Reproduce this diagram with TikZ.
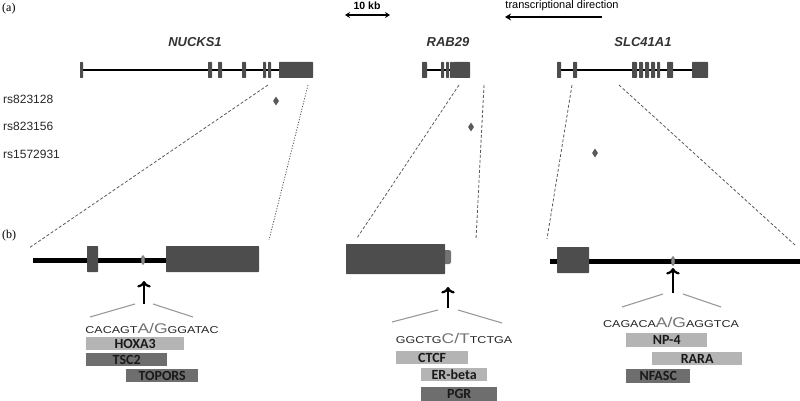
\documentclass[tikz,border=0pt]{standalone}
\usepackage{fontspec}
\setmainfont{Liberation Sans}
\newfontfamily\seqfont[FakeStretch=1.25]{Liberation Sans}
\newfontfamily\tffont{Carlito}
\newfontfamily\panelfont{Liberation Serif}
\usepackage{xcolor}
\usetikzlibrary{arrows.meta,shapes.geometric}
\definecolor{exongray}{HTML}{4D4D4D}
\definecolor{tflight}{HTML}{B4B4B4}
\definecolor{tfdark}{HTML}{6E6E6E}
\definecolor{snpgray}{HTML}{5A5A5A}

\newcommand{\allele}[1]{{\fontsize{14}{14}\selectfont\color{black!55}#1}}

\begin{document}
\begin{tikzpicture}[x=1pt,y=-1pt,
    exon/.style={fill=exongray, rounded corners=0.6pt},
    zoomline/.style={draw=black!65, line width=0.8pt, dash pattern=on 3pt off 2pt},
    calloutline/.style={draw=black!40, line width=1.1pt},
    snp/.style={shape=diamond, fill=snpgray, inner sep=0pt, minimum width=6pt, minimum height=9pt},
    site/.style={ellipse, fill=black!45, draw=black!60, line width=0.4pt, inner sep=0pt, minimum width=3.5pt, minimum height=9pt},
    tfbox/.style={fill=#1, text=black!90, font=\tffont\bfseries\fontsize{14}{14}\selectfont, inner sep=0pt, minimum height=13pt, anchor=north west},
    seq/.style={font=\seqfont\fontsize{10}{10}\selectfont, text=black!85, anchor=base, inner sep=0pt},
    genename/.style={font=\bfseries\itshape\fontsize{13}{13}\selectfont, text=black!80},
    rslabel/.style={font=\fontsize{12}{12}\selectfont, text=black!85, anchor=base west, inner sep=0pt},
    ]
    \useasboundingbox (0,0) rectangle (800,401);
    % (a) overview
    \node[font=\panelfont\fontsize{12}{12}\selectfont, anchor=base west, inner sep=0pt] (pa) at (2,12) {(a)};
    \node[font=\bfseries\fontsize{10.5}{10.5}\selectfont, anchor=base, inner sep=0pt] (kb) at (367,10) {10 kb};
    \coordinate (kbl) at (345,15);
    \coordinate (kbr) at (390,15);
    \draw[{Stealth[length=5pt,width=6pt]}-{Stealth[length=5pt,width=6pt]}, line width=1.3pt] (kbl) -- (kbr);
    \node[font=\fontsize{11}{11}\selectfont, anchor=base, inner sep=0pt] (tdir) at (562,9) {transcriptional direction};
    \coordinate (tdirs) at (602,17);
    \coordinate (tdire) at (505,17);
    \draw[-{Stealth[length=6pt,width=7pt]}, line width=1.3pt] (tdirs) -- (tdire);

    \node[genename] (nucks) at (195,42) {NUCKS1};
    \node[genename] (rab) at (448,42) {RAB29};
    \node[genename] (slc) at (643,42) {SLC41A1};

    \draw[line width=2pt] (80,70) -- (279,70);
    \foreach \a/\b in {80/83,208/212,218/222,242/246,263/266,268/271,279/313}
      \fill[exon] (\a,62) rectangle (\b,78);
    \draw[line width=2pt] (422,70) -- (453,70);
    \foreach \a/\b in {422/427,441/444,446/449,450/453,453/470}
      \fill[exon] (\a,62) rectangle (\b,78);
    \draw[line width=2pt] (557,70) -- (692,70);
    \foreach \a/\b in {557/561,573/577,632/637,639/643,645/649,651/655,657/660,667/673,692/708}
      \fill[exon] (\a,62) rectangle (\b,78);

    \node[rslabel] (rsa) at (3,104) {rs823128};
    \node[rslabel] (rsb) at (3,131) {rs823156};
    \node[rslabel] (rsc) at (3,158) {rs1572931};
    \node[snp] (snpa) at (276,101) {};
    \node[snp] (snpb) at (471,127) {};
    \node[snp] (snpc) at (595,153) {};

    % zoom lines
    \coordinate (nta) at (268,85);  \coordinate (nba) at (29,248);
    \coordinate (ntb) at (308,85);  \coordinate (nbb) at (269,240);
    \coordinate (rta) at (459,85);  \coordinate (rba) at (357,238);
    \coordinate (rtb) at (484,85);  \coordinate (rbb) at (476,239);
    \coordinate (sta) at (572,85);  \coordinate (sba) at (547,239);
    \coordinate (stb) at (619,85);  \coordinate (sbb) at (795,245);
    \draw[zoomline] (nta) -- (nba);
    \draw[zoomline, dash pattern=on 1.2pt off 1.5pt] (ntb) -- (nbb);
    \draw[zoomline] (rta) -- (rba);
    \draw[zoomline] (rtb) -- (rbb);
    \draw[zoomline] (sta) -- (sba);
    \draw[zoomline] (stb) -- (sbb);

    % (b) detail
    \node[font=\panelfont\fontsize{12}{12}\selectfont, anchor=base west, inner sep=0pt] (pb) at (2,238) {(b)};

    \draw[line width=5pt] (33,260) -- (166,260);
    \fill[exon] (87,246) rectangle (98,272);
    \fill[exon] (166,246) rectangle (259,272);
    \node[site] (sitea) at (143,260) {};
    \coordinate (arra) at (144,304);
    \coordinate (tipa) at (144,281);
    \draw[->, line width=2.2pt] (arra) -- (tipa);
    \coordinate (cla) at (90,317);  \coordinate (clb) at (135,304);
    \coordinate (cra) at (153,304); \coordinate (crb) at (193,317);
    \draw[calloutline] (cla) -- (clb);
    \draw[calloutline] (cra) -- (crb);
    \node[seq] (seqa) at (152,333) {CACAGT\allele{A/G}GGATAC};
    \node[tfbox=tflight, minimum width=98pt] (hoxa) at (86,337) {HOXA3};
    \node[tfbox=tfdark, minimum width=81pt] (tsc) at (86,353) {TSC2};
    \node[tfbox=tfdark, minimum width=72pt] (topors) at (126,369) {TOPORS};

    \fill[black!55, rounded corners=2pt] (442,250) rectangle (451,264);
    \fill[exon] (346,244) rectangle (445,274);
    \coordinate (arrb) at (448,308);
    \coordinate (tipb) at (448,287);
    \draw[->, line width=2.2pt] (arrb) -- (tipb);
    \coordinate (clc) at (392,322); \coordinate (cld) at (438,310);
    \coordinate (crc) at (458,310); \coordinate (crd) at (502,323);
    \draw[calloutline] (clc) -- (cld);
    \draw[calloutline] (crc) -- (crd);
    \node[seq] (seqb) at (454,343) {GGCTG\allele{C/T}TCTGA};
    \node[tfbox=tflight, minimum width=72pt] (ctcf) at (396,351) {CTCF};
    \node[tfbox=tflight, minimum width=66pt] (erb) at (421,368) {ER-beta};
    \node[tfbox=tfdark, minimum width=76pt, minimum height=14pt] (pgr) at (421,387) {PGR};

    \draw[line width=5pt] (550,261) -- (800,261);
    \fill[exon] (557,247) rectangle (589,273);
    \node[site] (sitec) at (673,261) {};
    \coordinate (arrc) at (673,293);
    \coordinate (tipc) at (673,268);
    \draw[->, line width=2.2pt] (arrc) -- (tipc);
    \coordinate (cle) at (622,307); \coordinate (clf) at (663,294);
    \coordinate (cre) at (683,294); \coordinate (crf) at (721,307);
    \draw[calloutline] (cle) -- (clf);
    \draw[calloutline] (cre) -- (crf);
    \node[seq] (seqc) at (671,327) {CAGACA\allele{A/G}AGGTCA};
    \node[tfbox=tflight, minimum width=81pt, minimum height=14pt] (np) at (626,333) {NP-4};
    \node[tfbox=tflight, minimum width=90pt] (rara) at (652,352) {RARA};
    \node[tfbox=tfdark, minimum width=64pt, minimum height=14pt] (nfasc) at (626,369) {NFASC};
  \end{tikzpicture}
\end{document}
